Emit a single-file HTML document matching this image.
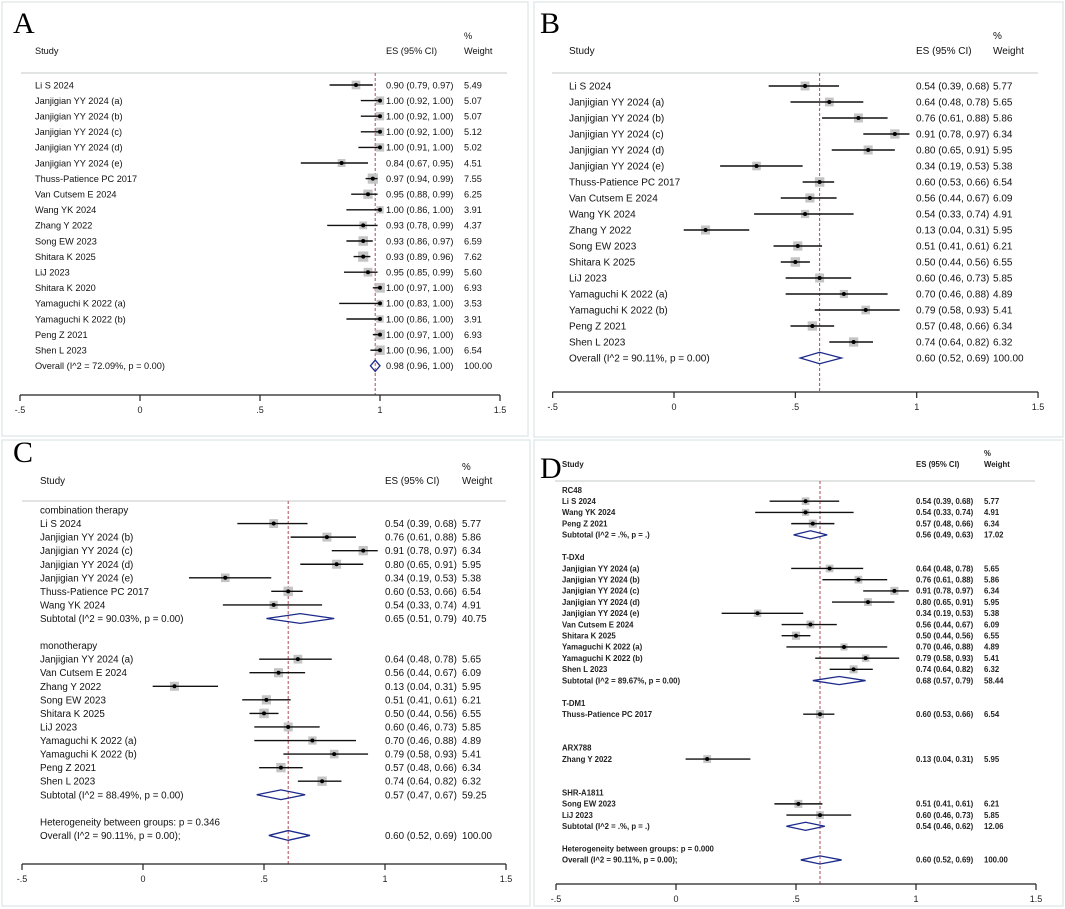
<!DOCTYPE html>
<html><head><meta charset="utf-8">
<style>
html,body{margin:0;padding:0;background:#fff;}
svg{display:block;font-family:"Liberation Sans",Arial,sans-serif;}
</style></head>
<body>
<svg id="fig" width="1065" height="909" viewBox="0 0 1065 909" xmlns="http://www.w3.org/2000/svg"></svg>
<script>
// ---------- Panel A data ----------
const aLabels=["Li S 2024","Janjigian YY 2024 (a)","Janjigian YY 2024 (b)","Janjigian YY 2024 (c)","Janjigian YY 2024 (d)","Janjigian YY 2024 (e)","Thuss-Patience PC 2017","Van Cutsem E 2024","Wang YK 2024","Zhang Y 2022","Song EW 2023","Shitara K 2025","LiJ 2023","Shitara K 2020","Yamaguchi K 2022 (a)","Yamaguchi K 2022 (b)","Peng Z 2021","Shen L 2023","Overall  (I^2 = 72.09%, p = 0.00)"];
const aKind=["s","s","s","s","s","s","s","s","s","s","s","s","s","s","s","s","s","s","o"];
const aES=[0.90,1.00,1.00,1.00,1.00,0.84,0.97,0.95,1.00,0.93,0.93,0.93,0.95,1.00,1.00,1.00,1.00,1.00,0.98];
const aLo=[0.79,0.92,0.92,0.92,0.91,0.67,0.94,0.88,0.86,0.78,0.86,0.89,0.85,0.97,0.83,0.86,0.97,0.96,0.96];
const aHi=[0.97,1.00,1.00,1.00,1.00,0.95,0.99,0.99,1.00,0.99,0.97,0.96,0.99,1.00,1.00,1.00,1.00,1.00,1.00];
const aW=[5.49,5.07,5.07,5.12,5.02,4.51,7.55,6.25,3.91,4.37,6.59,7.62,5.60,6.93,3.53,3.91,6.93,6.54,100.00];
// ---------- Panel B data ----------
const bLabels=["Li S 2024","Janjigian YY 2024 (a)","Janjigian YY 2024 (b)","Janjigian YY 2024 (c)","Janjigian YY 2024 (d)","Janjigian YY 2024 (e)","Thuss-Patience PC 2017","Van Cutsem E 2024","Wang YK 2024","Zhang Y 2022","Song EW 2023","Shitara K 2025","LiJ 2023","Yamaguchi K 2022 (a)","Yamaguchi K 2022 (b)","Peng Z 2021","Shen L 2023","Overall  (I^2 = 90.11%, p = 0.00)"];
const bKind=["s","s","s","s","s","s","s","s","s","s","s","s","s","s","s","s","s","o"];
const bES=[0.54,0.64,0.76,0.91,0.80,0.34,0.60,0.56,0.54,0.13,0.51,0.50,0.60,0.70,0.79,0.57,0.74,0.60];
const bLo=[0.39,0.48,0.61,0.78,0.65,0.19,0.53,0.44,0.33,0.04,0.41,0.44,0.46,0.46,0.58,0.48,0.64,0.52];
const bHi=[0.68,0.78,0.88,0.97,0.91,0.53,0.66,0.67,0.74,0.31,0.61,0.56,0.73,0.88,0.93,0.66,0.82,0.69];
const bW=[5.77,5.65,5.86,6.34,5.95,5.38,6.54,6.09,4.91,5.95,6.21,6.55,5.85,4.89,5.41,6.34,6.32,100.00];
// ---------- Panel C data ----------
const cLabels=["combination therapy","Li S 2024","Janjigian YY 2024 (b)","Janjigian YY 2024 (c)","Janjigian YY 2024 (d)","Janjigian YY 2024 (e)","Thuss-Patience PC 2017","Wang YK 2024","Subtotal  (I^2 = 90.03%, p = 0.00)","","monotherapy","Janjigian YY 2024 (a)","Van Cutsem E 2024","Zhang Y 2022","Song EW 2023","Shitara K 2025","LiJ 2023","Yamaguchi K 2022 (a)","Yamaguchi K 2022 (b)","Peng Z 2021","Shen L 2023","Subtotal  (I^2 = 88.49%, p = 0.00)","","Heterogeneity between groups: p = 0.346","Overall  (I^2 = 90.11%, p = 0.00);"];
const cKind=["h","s","s","s","s","s","s","s","d","b","h","s","s","s","s","s","s","s","s","s","s","d","b","h","o"];
const cES=[null,0.54,0.76,0.91,0.80,0.34,0.60,0.54,0.65,null,null,0.64,0.56,0.13,0.51,0.50,0.60,0.70,0.79,0.57,0.74,0.57,null,null,0.60];
const cLo=[null,0.39,0.61,0.78,0.65,0.19,0.53,0.33,0.51,null,null,0.48,0.44,0.04,0.41,0.44,0.46,0.46,0.58,0.48,0.64,0.47,null,null,0.52];
const cHi=[null,0.68,0.88,0.97,0.91,0.53,0.66,0.74,0.79,null,null,0.78,0.67,0.31,0.61,0.56,0.73,0.88,0.93,0.66,0.82,0.67,null,null,0.69];
const cW=[null,5.77,5.86,6.34,5.95,5.38,6.54,4.91,40.75,null,null,5.65,6.09,5.95,6.21,6.55,5.85,4.89,5.41,6.34,6.32,59.25,null,null,100.00];
// ---------- Panel D data ----------
const dLabels=["RC48","Li S 2024","Wang YK 2024","Peng Z 2021","Subtotal  (I^2 = .%, p = .)","","T-DXd","Janjigian YY 2024 (a)","Janjigian YY 2024 (b)","Janjigian YY 2024 (c)","Janjigian YY 2024 (d)","Janjigian YY 2024 (e)","Van Cutsem E 2024","Shitara K 2025","Yamaguchi K 2022 (a)","Yamaguchi K 2022 (b)","Shen L 2023","Subtotal  (I^2 = 89.67%, p = 0.00)","","T-DM1","Thuss-Patience PC 2017","","","ARX788","Zhang Y 2022","","","SHR-A1811","Song EW 2023","LiJ 2023","Subtotal  (I^2 = .%, p = .)","","Heterogeneity between groups: p = 0.000","Overall  (I^2 = 90.11%, p = 0.00);"];
const dKind=["h","s","s","s","d","b","h","s","s","s","s","s","s","s","s","s","s","d","b","h","s","b","b","h","s","b","b","h","s","s","d","b","h","o"];
const dES=[null,0.54,0.54,0.57,0.56,null,null,0.64,0.76,0.91,0.80,0.34,0.56,0.50,0.70,0.79,0.74,0.68,null,null,0.60,null,null,null,0.13,null,null,null,0.51,0.60,0.54,null,null,0.60];
const dLo=[null,0.39,0.33,0.48,0.49,null,null,0.48,0.61,0.78,0.65,0.19,0.44,0.44,0.46,0.58,0.64,0.57,null,null,0.53,null,null,null,0.04,null,null,null,0.41,0.46,0.46,null,null,0.52];
const dHi=[null,0.68,0.74,0.66,0.63,null,null,0.78,0.88,0.97,0.91,0.53,0.67,0.56,0.88,0.93,0.82,0.79,null,null,0.66,null,null,null,0.31,null,null,null,0.61,0.73,0.62,null,null,0.69];
const dW=[null,5.77,4.91,6.34,17.02,null,null,5.65,5.86,6.34,5.95,5.38,6.09,6.55,4.89,5.41,6.32,58.44,null,null,6.54,null,null,null,5.95,null,null,null,6.21,5.85,12.06,null,null,100.00];
const tickVals=[-0.5,0,0.5,1,1.5];
const tickLabels=["-.5","0",".5","1","1.5"];

const NS="http://www.w3.org/2000/svg";
const svg=document.getElementById('fig');
function mk(tag,attrs,parent,text){const e=document.createElementNS(NS,tag);for(const k in attrs)e.setAttribute(k,attrs[k]);if(text!==undefined)e.textContent=text;(parent||svg).appendChild(e);return e;}

const panels=[
 {id:'a',letter:'A',lx:13,ly:33,box:[2,2,526,434],x0:140,sc:240,axisY:395,hdrY:73,lineX:[21,507],studyX:35,esX:386,wtX:464,hY:54,pY:39,r0:85,step:15.6,fs:9.2,bold:false,ref:0.98,
  labels:aLabels,kind:aKind,es:aES,lo:aLo,hi:aHi,w:aW},
 {id:'b',letter:'B',lx:540,ly:33,box:[534,2,529,435],x0:674,sc:242.7,axisY:392,hdrY:73,lineX:[552,1038],studyX:569,esX:916,wtX:993,hY:54,pY:39,r0:86,step:16.0,fs:10,bold:false,ref:0.60,
  labels:bLabels,kind:bKind,es:bES,lo:bLo,hi:bHi,w:bW},
 {id:'c',letter:'C',lx:13,ly:462,box:[2,440,528,466],x0:143,sc:242,axisY:864,hdrY:501,lineX:[22,506],studyX:40,esX:385,wtX:462,hY:484,pY:470,r0:510,step:13.56,fs:9.8,bold:false,ref:0.60,
  labels:cLabels,kind:cKind,es:cES,lo:cLo,hi:cHi,w:cW},
 {id:'d',letter:'D',lx:540,ly:478,box:[534,440,529,466],x0:676,sc:240,axisY:884,hdrY:481,lineX:[555,1035],studyX:562,esX:916,wtX:984,hY:467,pY:456,r0:490,step:11.21,fs:7.8,bold:true,ref:0.60,
  labels:dLabels,kind:dKind,es:dES,lo:dLo,hi:dHi,w:dW}
];
function f2(v){return v.toFixed(2);}

panels.forEach(p=>{
  const g=mk('g',{});
  
  
  const X=v=>p.x0+v*p.sc;
  const Y=i=>p.r0+i*p.step;
  const b=mk('rect',{x:p.box[0],y:p.box[1],width:p.box[2],height:p.box[3],fill:'none',stroke:'#e3eaea','stroke-width':1.5},g);
  
  
  const L=mk('text',{x:p.lx,y:p.ly,'font-family':'"Liberation Serif",serif','font-size':30,fill:'#000'},g,p.letter);
  
  
  const fw=p.bold?'bold':'normal';
  const tcol=p.bold?'#222':'#111';
  const hs=mk('text',{x:p.studyX,y:p.hY,'font-size':p.fs,'font-weight':fw,fill:tcol},g,'Study');
  
  
  const he=mk('text',{x:p.esX,y:p.hY,'font-size':p.fs,'font-weight':fw,fill:tcol},g,'ES (95% CI)');
  
  
  const hp=mk('text',{x:p.wtX,y:p.pY,'font-size':p.fs,'font-weight':fw,fill:tcol},g,'%');
  
  
  const hw=mk('text',{x:p.wtX,y:p.hY,'font-size':p.fs,'font-weight':fw,fill:tcol},g,'Weight');
  
  
  const hl=mk('line',{x1:p.lineX[0],x2:p.lineX[1],y1:p.hdrY,y2:p.hdrY,stroke:'#d8dcdc','stroke-width':1.5},g);
  
  
  const rl=mk('line',{x1:X(p.ref),x2:X(p.ref),y1:p.hdrY,y2:p.axisY,stroke:'#b04a5a','stroke-width':1,'stroke-dasharray':'3,2'},g);
  
  
  const ax=mk('line',{x1:X(tickVals[0]),x2:X(tickVals[tickVals.length-1]),y1:p.axisY,y2:p.axisY,stroke:'#222','stroke-width':1.2},g);
  
  
  tickVals.forEach((t,i)=>{
    const tk=mk('line',{x1:X(t),x2:X(t),y1:p.axisY,y2:p.axisY+6,stroke:'#222','stroke-width':1.2},g);
    
    
    const tl=mk('text',{x:X(t),y:p.axisY+18,'font-size':9,'text-anchor':'middle',fill:'#222'},g,tickLabels[i]);
    
    
  });
  p.labels.forEach((lab,i)=>{
    const y=Y(i);const k=p.kind[i];
    if(k==='b')return;
    const lt=mk('text',{x:p.studyX,y:y+p.fs*0.36,'font-size':p.fs,'font-weight':fw,fill:tcol},g,lab);
    
    
    if(k==='h')return;
    const es=p.es[i],lo=p.lo[i],hi=p.hi[i],w=p.w[i];
    const et=mk('text',{x:p.esX,y:y+p.fs*0.36,'font-size':p.fs,'font-weight':fw,fill:tcol},g,f2(es)+' ('+f2(lo)+', '+f2(hi)+')');
    
    
    const wt=mk('text',{x:p.wtX,y:y+p.fs*0.36,'font-size':p.fs,'font-weight':fw,fill:tcol},g,f2(w));
    
    
    if(k==='s'){
      const s=Math.sqrt(w)*(p.id==='d'?3.2:3.7);
      const sq=mk('rect',{x:X(es)-s/2,y:y-s/2,width:s,height:s,fill:'#c4c4c4'},g);
      
      
      const ci=mk('line',{x1:X(lo),x2:X(hi),y1:y,y2:y,stroke:'#111','stroke-width':1.4},g);
      
      
      const dt=mk('circle',{cx:X(es),cy:y,r:2,fill:'#000'},g);
      
      
    }else{
      const h=p.step*0.36;
      const dm=mk('polygon',{points:`${X(lo)},${y} ${X(es)},${y-h} ${X(hi)},${y} ${X(es)},${y+h}`,fill:'none',stroke:'#1c2a8a','stroke-width':1.3},g);
      
      
    }
  });
});
</script>
</body></html>
